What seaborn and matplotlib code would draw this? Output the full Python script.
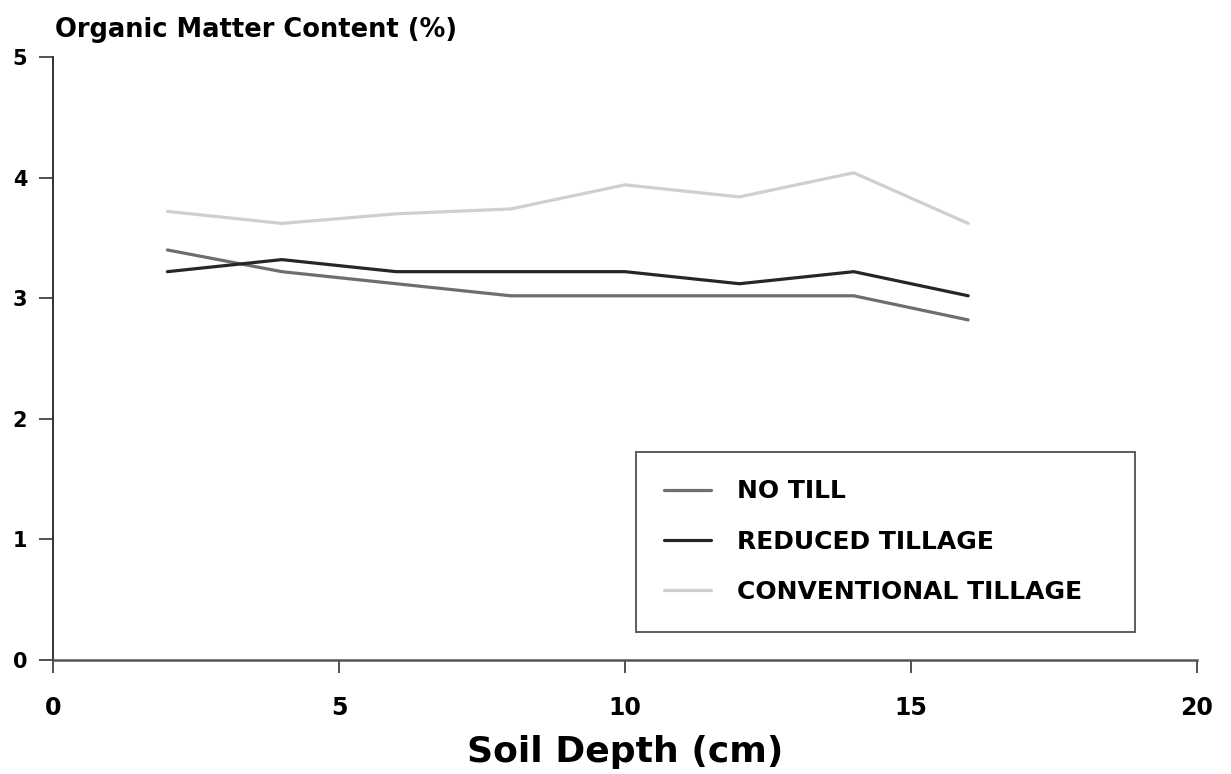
import pandas as pd
import matplotlib
matplotlib.use("Agg")
import matplotlib.pyplot as plt
import seaborn as sns

depth = [2, 4, 6, 8, 10, 12, 14, 16]
no_till = [3.4, 3.22, 3.12, 3.02, 3.02, 3.02, 3.02, 2.82]
reduced_tillage = [3.22, 3.32, 3.22, 3.22, 3.22, 3.12, 3.22, 3.02]
conventional_tillage = [3.72, 3.62, 3.7, 3.74, 3.94, 3.84, 4.04, 3.62]

series_names = ["NO TILL", "REDUCED TILLAGE", "CONVENTIONAL TILLAGE"]
series_colors = ["#6e6e6e", "#262626", "#cfcfcf"]
x_ticks = [0, 5, 10, 15, 20]
y_ticks = [0, 1, 2, 3, 4, 5]


def build_frame():
    rows = []
    for name, vals in zip(series_names, [no_till, reduced_tillage, conventional_tillage]):
        for d, v in zip(depth, vals):
            rows.append({"depth": d, "om": v, "treatment": name})
    return pd.DataFrame(rows)


def main():
    sns.set_style("ticks", {"text.color": "black", "axes.labelcolor": "black",
                            "xtick.color": "black", "ytick.color": "black"})
    plt.rcParams["font.family"] = ["DejaVu Sans"]
    df = build_frame()

    fig = plt.figure(figsize=(12.31, 7.74), dpi=100)
    ax = fig.add_axes([53 / 1231, 1 - 660 / 774, (1197 - 53) / 1231, (660 - 57) / 774])

    sns.lineplot(data=df, x="depth", y="om", hue="treatment", hue_order=series_names,
                 palette=dict(zip(series_names, series_colors)), linewidth=2.3, ax=ax)

    ax.set_xlim(0, 20)
    ax.set_ylim(0, 5)
    ax.set_xticks(x_ticks)
    ax.set_yticks(y_ticks)
    ax.tick_params(axis="x", labelsize=17, length=9, width=1.2, pad=17, colors="#333333",
                   labelcolor="black")
    ax.tick_params(axis="y", labelsize=15, length=10, width=1.2, pad=8.5, colors="#333333",
                   labelcolor="black")
    for lab in ax.get_xticklabels() + ax.get_yticklabels():
        lab.set_fontweight("bold")
    sns.despine(ax=ax)
    ax.spines["left"].set_linewidth(1.4)
    ax.spines["left"].set_color("#333333")
    ax.spines["bottom"].set_linewidth(1.8)
    ax.spines["bottom"].set_color("#555555")

    ax.set_ylabel("")
    ax.set_xlabel("Soil Depth (cm)", fontsize=26, fontweight="bold", labelpad=11)
    fig.text(55 / 1231, 1 - 30 / 774, "Organic Matter Content (%)", fontsize=18.5,
             fontweight="bold", va="center", ha="left")

    leg = ax.legend(loc="upper left", bbox_to_anchor=((636 - 53) / 1144, (660 - 452) / 603,
                                                      (1135 - 636) / 1144, 0.0),
                    mode="expand", fancybox=False, frameon=True,
                    prop={"weight": "bold", "size": 18},
                    handlelength=1.9, labelspacing=1.05, borderpad=1.1, handletextpad=1.05,
                    borderaxespad=0.0)
    leg.get_frame().set_edgecolor("#333333")
    leg.get_frame().set_linewidth(1.4)

    fig.savefig("out.png", dpi=100)
    plt.close(fig)


if __name__ == "__main__":
    main()
